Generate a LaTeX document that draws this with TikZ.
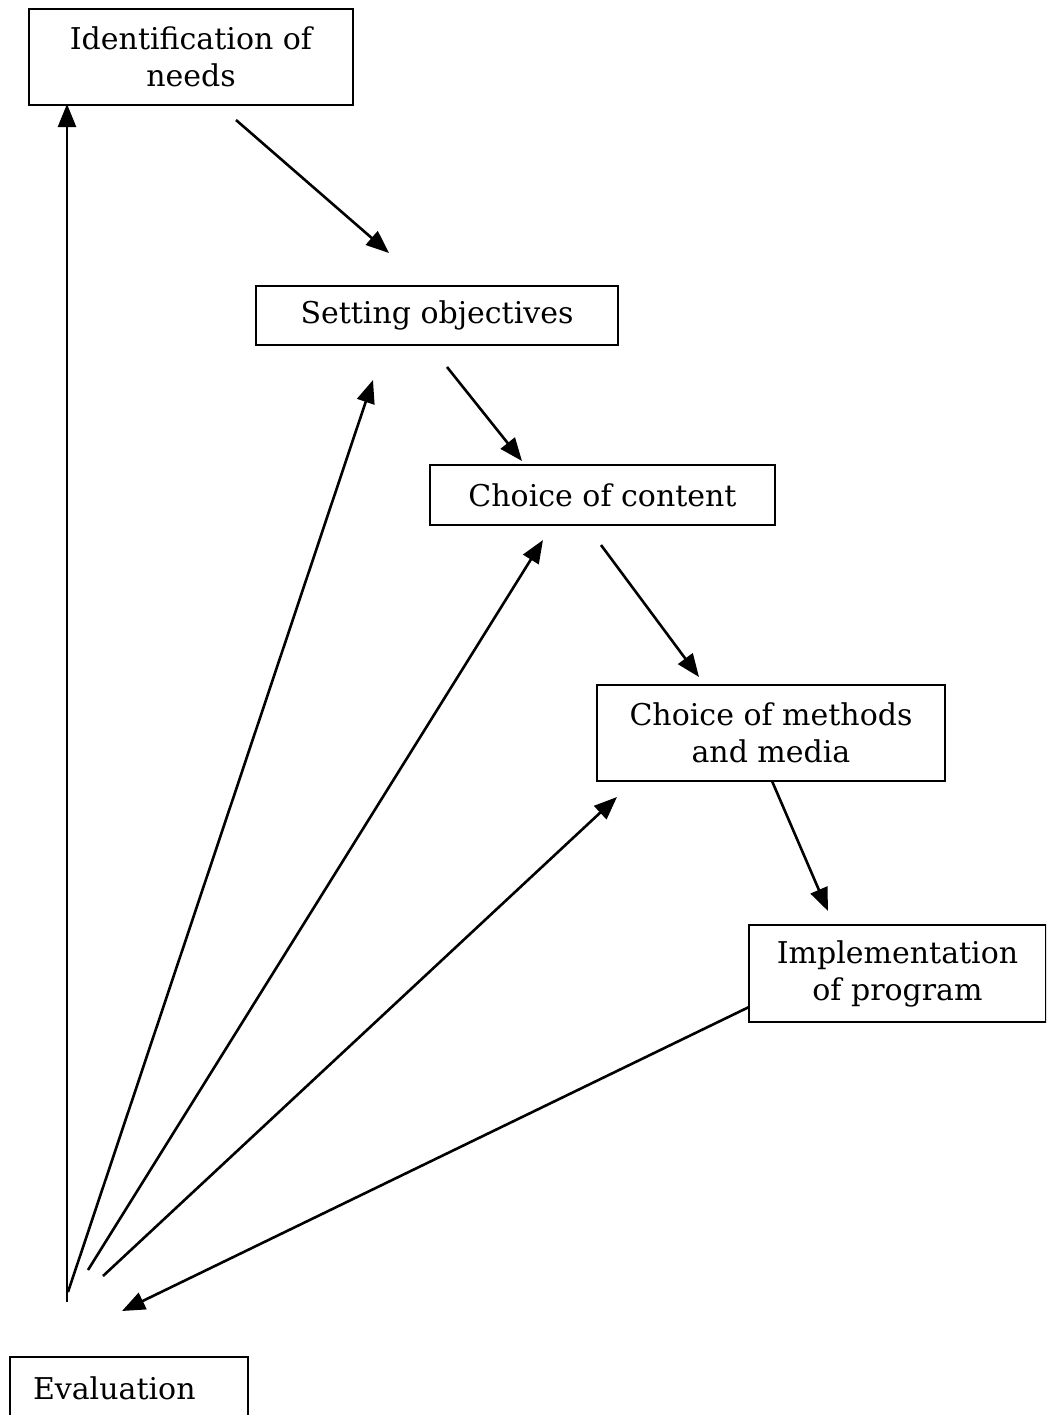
\documentclass[tikz,border=0pt]{standalone}
\usepackage{fontspec}
\newfontfamily\boxfont{DejaVu Serif}
\usetikzlibrary{arrows.meta}
\begin{document}
\begin{tikzpicture}[x=0.5pt,y=-0.5pt,
  box/.style={draw, line width=1pt, align=center, inner sep=0pt,
    font=\boxfont\fontsize{15}{18.5}\selectfont},
  arr/.style={line width=1.3pt, -{Triangle[length=11.5pt,width=9pt]}}]
\useasboundingbox (0,0) rectangle (1046,1415);
\clip (0,0) rectangle (1046,1415);
\fill[white] (0,0) rectangle (1046,1415);
% nodes
\node[box, minimum width=162pt, minimum height=48pt] (ident) at (191,57) {Identification of\\needs};
\node[box, minimum width=181pt, minimum height=29.5pt] (setobj) at (437,315.5) {Setting objectives};
\node[box, minimum width=172.5pt, minimum height=30pt] (content) at (602.5,495) {Choice of content};
\node[box, minimum width=174pt, minimum height=48pt] (methods) at (771,733) {Choice of methods\\and media};
\node[box, minimum width=148.5pt, minimum height=48.5pt] (impl) at (897.5,973.5) {Implementation\\of program};
\node[box, minimum width=119pt, minimum height=31pt, inner xsep=11.5pt, text width=96pt, align=left] (eval) at (129,1388) {Evaluation};
% arrow end points
\coordinate (a1s) at (236,120);  \coordinate (a1e) at (389,253);
\coordinate (a2s) at (447,367);  \coordinate (a2e) at (522,461);
\coordinate (a3s) at (601,545);  \coordinate (a3e) at (699,677);
\coordinate (a4s) at (772,781);  \coordinate (a4e) at (828,911);
\coordinate (a5s) at (749,1007); \coordinate (a5e) at (122,1311);
\coordinate (a6s) at (67,1302);  \coordinate (a6e) at (67,104);
\coordinate (a7s) at (68,1292);  \coordinate (a7e) at (373,380);
\coordinate (a8s) at (88,1270);  \coordinate (a8e) at (543,540);
\coordinate (a9s) at (103,1276); \coordinate (a9e) at (617,797);
% connectors
\draw[arr] (a1s) -- (a1e);
\draw[arr] (a2s) -- (a2e);
\draw[arr] (a3s) -- (a3e);
\draw[arr] (a4s) -- (a4e);
\draw[arr] (a5s) -- (a5e);
\draw[arr] (a6s) -- (a6e);
\draw[arr] (a7s) -- (a7e);
\draw[arr] (a8s) -- (a8e);
\draw[arr] (a9s) -- (a9e);
\end{tikzpicture}
\end{document}
